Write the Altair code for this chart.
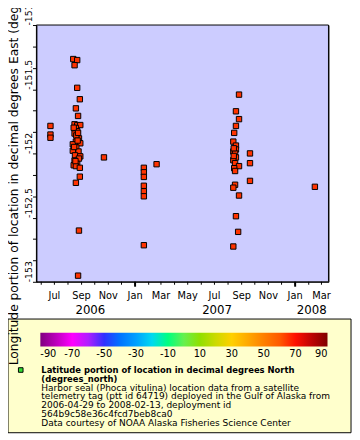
import altair as alt
import pandas as pd

# ---- data ----
dates = [
    "2006-06-22", "2006-06-22", "2006-06-22",
    "2006-08-13", "2006-08-22", "2006-08-16", "2006-08-22", "2006-08-28",
    "2006-08-19", "2006-08-24", "2006-08-16", "2006-08-22", "2006-08-29",
    "2006-08-19", "2006-08-22", "2006-08-16", "2006-08-26", "2006-08-19",
    "2006-08-29", "2006-08-12", "2006-08-20", "2006-08-12", "2006-08-25",
    "2006-08-17", "2006-08-29", "2006-08-26", "2006-08-16", "2006-08-22",
    "2006-08-14", "2006-08-19", "2006-08-28", "2006-08-28", "2006-08-19",
    "2006-08-26", "2006-08-24",
    "2006-08-14", "2006-08-20", "2006-08-15", "2006-08-23", "2006-08-18", "2006-08-24",
    "2006-10-22",
    "2007-01-21", "2007-01-21", "2007-01-21", "2007-01-21", "2007-01-21",
    "2007-01-21", "2007-01-21",
    "2007-02-19",
    "2007-08-26", "2007-08-19", "2007-08-26", "2007-08-19", "2007-08-15",
    "2007-08-13", "2007-08-19", "2007-08-19", "2007-08-13", "2007-08-17",
    "2007-08-19", "2007-08-13", "2007-08-17", "2007-08-26", "2007-08-15",
    "2007-08-17", "2007-08-17", "2007-08-13", "2007-08-26", "2007-08-19",
    "2007-08-24", "2007-08-13", "2007-08-14", "2007-08-14",
    "2007-09-20", "2007-09-20", "2007-09-20",
    "2008-02-15",
]
lons = [
    -151.786, -151.853, -151.878,
    -151.265, -151.273, -151.313, -151.489, -151.578,
    -151.649, -151.708, -151.773, -151.781, -151.779,
    -151.802, -151.827, -151.845, -151.883, -151.908,
    -151.921, -151.929, -151.954, -151.979, -151.985,
    -152.015, -152.023, -152.040, -152.056, -152.082,
    -152.092, -152.099, -152.112, -152.181, -152.229,
    -152.601, -152.952,
    -151.800, -151.860, -151.950, -151.900, -152.060, -151.840,
    -152.031,
    -152.112, -152.147, -152.183, -152.252, -152.295,
    -152.334, -152.715,
    -152.084,
    -151.542, -151.672, -151.733, -151.786, -151.840,
    -151.908, -151.939, -151.969, -151.985, -152.000,
    -152.031, -152.053, -152.076, -152.099, -152.115,
    -152.137, -152.244, -152.267, -152.328, -152.489,
    -152.611, -152.725, -151.960, -152.020,
    -152.000, -152.076, -152.214,
    -152.260,
]

year_labels = ["2006", "2007", "2008"]
year_label_dates = ["2006-09-21", "2007-07-07", "2008-02-08"]
year_starts = ["2007-01-01", "2008-01-01"]
x_domain = ["2006-05-21", "2008-03-17"]
# labelled months (every second month) and the unlabelled months between them
labelled_months = [
    "2006-07-01", "2006-09-01", "2006-11-01", "2007-01-01", "2007-03-01",
    "2007-05-01", "2007-07-01", "2007-09-01", "2007-11-01", "2008-01-01",
    "2008-03-01",
]
month_labels = ["Jul", "Sep", "Nov", "Jan", "Mar", "May", "Jul", "Sep", "Nov",
                "Jan", "Mar"]
minor_months = [
    "2006-06-01", "2006-08-01", "2006-10-01", "2006-12-01", "2007-02-01",
    "2007-04-01", "2007-06-01", "2007-08-01", "2007-10-01", "2007-12-01",
    "2008-02-01",
]

lat_stops = [-90, -70, -50, -30, -10, 10, 30, 50, 70, 90]
lat_colors = ["#800080", "#ff00ff", "#3030ff", "#00a0ff", "#00ff80",
              "#90e000", "#ffd000", "#ff8000", "#ff1000", "#800000"]

bold_lines = ["Latitude portion of location in decimal degrees North",
              "(degrees_north)"]
info_lines = ["Harbor seal (Phoca vitulina) location data from a satellite",
              "telemetry tag (ptt id 64719) deployed in the Gulf of Alaska from",
              "2006-04-29 to 2008-02-13, deployment id",
              "564b9c58e36c4fcd7beb8ca0",
              "Data courtesy of NOAA Alaska Fisheries Science Center"]

y_title = "Longitude portion of location in decimal degrees East (degrees_east)"


def ms(s):
    return int(pd.Timestamp(s, tz="UTC").value // 10**6)


y_ticks = [-151 - k / 6 for k in range(13)]

FONT = "DejaVu Sans"
W, H = 298, 262

df = pd.DataFrame({"date": [ms(d) for d in dates], "lon": lons})
years_df = pd.DataFrame({"date": [ms(d) for d in year_label_dates], "year": year_labels})
starts_df = pd.DataFrame({"date": [ms(d) for d in year_starts]})
months_df = pd.DataFrame({"date": [ms(d) for d in labelled_months + minor_months]})
mlabels_df = pd.DataFrame({"date": [ms(d) for d in labelled_months], "label": month_labels})
legend_df = pd.DataFrame({"lat": lat_stops})
one = pd.DataFrame({"k": [0]})

x_scale = alt.Scale(type="utc", domain=[ms(d) for d in x_domain])
y_scale = alt.Scale(domain=[-153, -151], nice=False, zero=False)

y_axis = alt.Axis(
    title=y_title, values=y_ticks,
    labelExpr="abs(datum.value*2 - round(datum.value*2)) < 0.001 ? '-' + format(abs(datum.value), '~g') : ''",
    labelAngle=-90, labelAlign="left", labelBaseline="alphabetic",
    labelPadding=1, labelFont=FONT, labelFontSize=9.5, labelColor="black",
    tickSize=4, tickColor="black", domainColor="black",
    titleFont=FONT, titleFontSize=12.5, titleFontWeight="normal",
    titleColor="black", titlePadding=3,
    labelOverlap=False, grid=False, zindex=1,
)

plot_bg = alt.Chart(one).mark_rect(fill="#ccccff", stroke="black", strokeWidth=1).encode(
    x=alt.value(0), x2=alt.value(W), y=alt.value(0), y2=alt.value(H)
)

box = alt.Chart(one).mark_rect(fill="#ffffcc", stroke="black", strokeWidth=1).encode(
    x=alt.value(-29), x2=alt.value(321), y=alt.value(300), y2=alt.value(416)
)

points = alt.Chart(df).mark_square(
    size=30, filled=True, fill="#ff3300", stroke="black", strokeWidth=1, opacity=1
).encode(
    x=alt.X("date:T", scale=x_scale, axis=None),
    y=alt.Y("lon:Q", scale=y_scale, axis=y_axis),
)

month_ticks = alt.Chart(months_df).mark_rule(color="black", strokeWidth=1).encode(
    x=alt.X("date:T", scale=x_scale, axis=None),
    y=alt.value(H), y2=alt.value(H + 3),
)

year_ticks = alt.Chart(starts_df).mark_rule(color="black", strokeWidth=2).encode(
    x=alt.X("date:T", scale=x_scale, axis=None),
    y=alt.value(H), y2=alt.value(H + 5),
)

month_text = alt.Chart(mlabels_df).mark_text(
    font=FONT, fontSize=10, baseline="alphabetic", align="center", color="black"
).encode(
    x=alt.X("date:T", scale=x_scale, axis=None),
    y=alt.value(H + 18),
    text="label:N",
)

years = alt.Chart(years_df).mark_text(
    font=FONT, fontSize=12, baseline="alphabetic", align="center", color="black"
).encode(
    x=alt.X("date:T", scale=x_scale, axis=None),
    y=alt.value(H + 33),
    text="year:N",
)

colorbar = alt.Chart(legend_df).mark_point(size=0, strokeWidth=0, opacity=1).encode(
    color=alt.Color(
        "lat:Q",
        scale=alt.Scale(domain=lat_stops, range=lat_colors),
        legend=alt.Legend(
            orient="none", legendX=4, legendY=314, direction="horizontal",
            gradientLength=293, gradientThickness=14, title=None,
            values=lat_stops,
            labelExpr="datum.value < 0 ? '-' + format(abs(datum.value), 'd') : format(datum.value, 'd')",
            labelFont=FONT, labelFontSize=10, labelColor="black",
            labelAlign="center", labelOffset=3, labelOverlap=False,
            gradientStrokeWidth=0, gradientOpacity=1, padding=0,
        ),
    )
)

marker = alt.Chart(one).mark_square(
    size=22, filled=True, fill="#33dd33", stroke="black", strokeWidth=1, opacity=1
).encode(x=alt.value(-16), y=alt.value(352))

bold_text = alt.Chart(one).mark_text(
    font=FONT, fontSize=8.6, fontWeight="bold", align="left",
    baseline="alphabetic", lineHeight=9, color="black"
).encode(x=alt.value(5), y=alt.value(355), text=alt.value(bold_lines))

info_text = alt.Chart(one).mark_text(
    font=FONT, fontSize=9.2, align="left",
    baseline="alphabetic", lineHeight=9, color="black"
).encode(x=alt.value(5), y=alt.value(373), text=alt.value(info_lines))

chart = alt.layer(
    plot_bg, box, points, month_ticks, year_ticks, month_text, years,
    colorbar, marker, bold_text, info_text
).properties(
    width=W, height=H,
    padding={"left": 29, "top": 13, "right": 24, "bottom": 155},
    autosize=alt.AutoSizeParams(type="none"),
    background="white",
).configure(
    font=FONT,
    view=alt.ViewConfig(fill="#ccccff", stroke="black", strokeWidth=1),
)

chart.save("out.html", embed_options={"renderer": "svg", "actions": False})
